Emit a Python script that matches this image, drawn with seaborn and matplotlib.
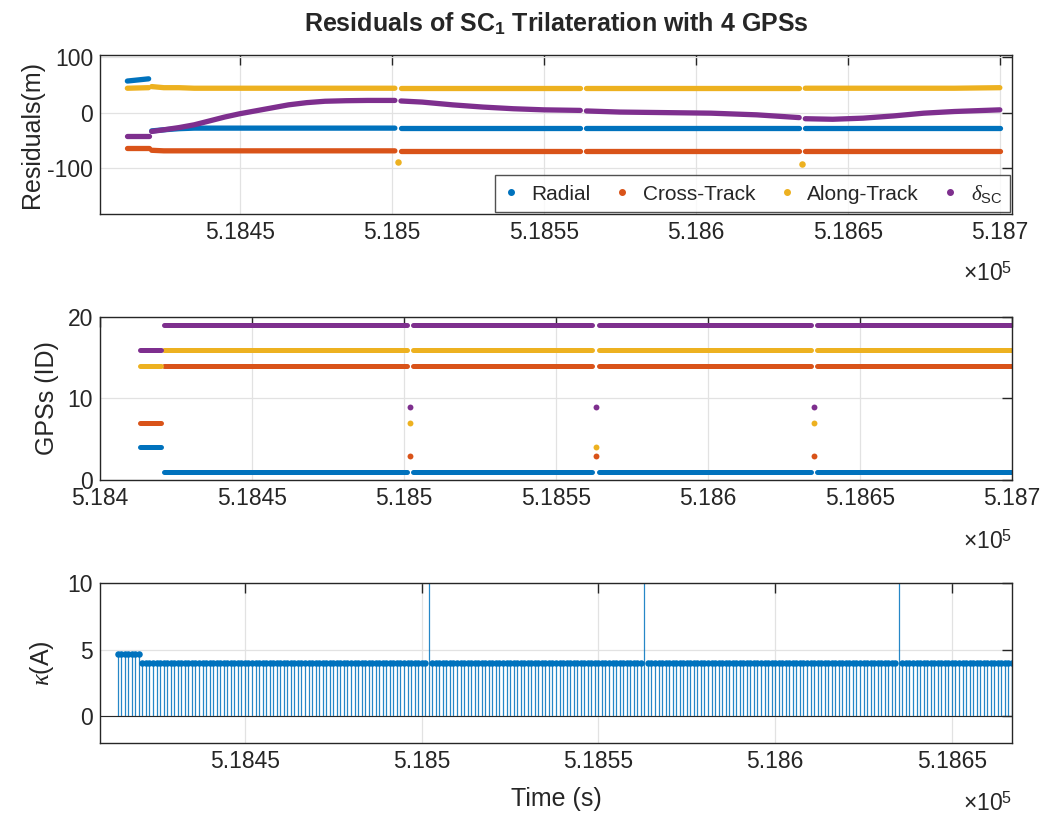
import numpy as np
import pandas as pd
import matplotlib
matplotlib.use("Agg")
import matplotlib.pyplot as plt
from matplotlib.lines import Line2D
from matplotlib.ticker import FuncFormatter
import seaborn as sns

# ---------------- data ----------------
series_names = ["Radial", "Cross-Track", "Along-Track", r"$\delta_{\rm SC}$"]
colors = ["#0072BD", "#D95319", "#EDB120", "#7E2F8E"]

# anchor times of the residual curves and the segment each belongs to
res_t = [518413, 518420,
         518421, 518425, 518430, 518435, 518440, 518445, 518450, 518455, 518460,
         518466, 518472, 518478, 518485, 518492, 518501,
         518503, 518510, 518520, 518530, 518540, 518550, 518562,
         518564, 518575, 518590, 518605, 518620, 518634,
         518636, 518645, 518655, 518665, 518675, 518685, 518700]
res_seg = [1, 1,
           2, 2, 2, 2, 2, 2, 2, 2, 2, 2, 2, 2, 2, 2, 2,
           3, 3, 3, 3, 3, 3, 3,
           4, 4, 4, 4, 4, 4,
           5, 5, 5, 5, 5, 5, 5]
radial = [57, 61,
          -33, -31, -29, -28, -28, -28, -28, -28, -28, -28, -28, -28, -28, -28, -28,
          -28, -28, -28, -28, -28, -28, -28,
          -28, -28, -28, -28, -28, -28,
          -27, -27, -27, -27, -27, -27, -27]
cross_track = [-63, -63,
               -68, -69, -69, -69, -69, -69, -69, -69, -69, -69, -69, -69, -69, -69, -69,
               -69, -69, -69, -69, -69, -69, -69,
               -69, -69, -69, -69, -69, -69,
               -69, -69, -69, -69, -69, -69, -69]
along_track = [44, 45,
               47, 45, 45, 44, 44, 44, 44, 44, 44, 44, 44, 44, 44, 44, 44,
               44, 44, 44, 44, 44, 44, 44,
               44, 44, 44, 44, 44, 44,
               44, 44, 44, 44, 44, 44, 45]
delta_sc = [-42, -42,
            -34, -31, -27, -22, -15, -8, -2, 3, 8, 14, 18, 20.5, 21.5, 22, 22,
            21, 19, 14, 10, 7, 5, 4,
            3, 1, 0, -1, -4, -9,
            -11, -12, -10, -6, -1, 2, 5]
along_outlier_t = [518502, 518635]
along_outlier_v = [-90, -93]

# GPS IDs used: segment start / end times and IDs per series
seg_start = [518413, 518421, 518503, 518564, 518636]
seg_end = [518420, 518501, 518562, 518634, 518700]
gps_radial = [4, 1, 1, 1, 1]
gps_cross = [7, 14, 14, 14, 14]
gps_along = [14, 16, 16, 16, 16]
gps_delta = [16, 19, 19, 19, 19]
event_t = [518502, 518563, 518635]
ev_cross = [3, 3, 3]
ev_along = [7, 4, 7]
ev_delta = [9, 9, 9]

# condition number per segment and at the events
kappa_start = [518414, 518421, 518503, 518564, 518636]
kappa_end = [518420, 518501, 518562, 518634, 518700]
kappa_seg = [4.7, 4.0, 4.0, 4.0, 4.0]
kappa_event = [30, 30, 30]

# ---------------- style ----------------
sns.set_style("white")
plt.rcParams["font.family"] = ["Liberation Sans", "DejaVu Sans"]
plt.rcParams["mathtext.fontset"] = "custom"
plt.rcParams["mathtext.rm"] = "Liberation Sans"
plt.rcParams["mathtext.it"] = "Liberation Serif:italic"
plt.rcParams["mathtext.bf"] = "Liberation Sans:bold"
plt.rcParams["axes.unicode_minus"] = False

fig = plt.figure(figsize=(10.55, 8.16), dpi=100)
L, W = 100 / 1055, (1012 - 100) / 1055
ax1 = fig.add_axes([L, 1 - 214 / 816, W, (214 - 55) / 816])
ax2 = fig.add_axes([L, 1 - 480 / 816, W, (480 - 317) / 816])
ax3 = fig.add_axes([L, 1 - 743 / 816, W, (743 - 583) / 816])

axcol = "#262626"
TFS = 16.5
LFS = 18

def style(ax):
    ax.grid(True, color="#e2e2e2", lw=0.9)
    ax.set_axisbelow(True)
    for s in ax.spines.values():
        s.set_color(axcol)
        s.set_linewidth(1.0)
    ax.tick_params(direction="in", top=True, right=True, length=7, width=1,
                   colors=axcol, labelsize=TFS, pad=5)
    ax.xaxis.set_major_formatter(FuncFormatter(lambda v, p: f"{v/1e5:g}"))
    ax.text(1.0, -0.38, r"$\times$10$^{5}$", transform=ax.transAxes,
            ha="right", va="center", fontsize=TFS, color=axcol)

# ---- top: residuals ----
rows = []
for name, vals in zip(series_names, [radial, cross_track, along_track, delta_sc]):
    for t, s, v in zip(res_t, res_seg, vals):
        rows.append((t, v, name, s))
df_res = pd.DataFrame(rows, columns=["t", "v", "series", "seg"])
pal = dict(zip(series_names, colors))
sns.lineplot(data=df_res, x="t", y="v", hue="series", units="seg", estimator=None,
             palette=pal, lw=3.8, legend=False, ax=ax1, solid_capstyle="round")
sns.scatterplot(x=along_outlier_t, y=along_outlier_v, color=colors[2], s=22,
                linewidth=0, ax=ax1)
ax1.set_xlim(518404, 518704)
ax1.set_ylim(-183, 104)
ax1.set_xticks([518450, 518500, 518550, 518600, 518650, 518700])
ax1.set_yticks([-100, 0, 100])
ax1.set_xlabel("")
ax1.set_ylabel("Residuals(m)", fontsize=LFS, color=axcol, labelpad=2)
style(ax1)
handles = [Line2D([], [], ls="none", marker="o", ms=4, color=c) for c in colors]
leg = ax1.legend(handles, series_names, loc="lower right", ncol=4, fontsize=15,
                 frameon=True, fancybox=False, edgecolor=axcol, handlelength=0.8,
                 handletextpad=0.6, columnspacing=1.1, borderaxespad=0.1,
                 borderpad=0.35)
leg.get_frame().set_linewidth(1.0)
ax1.set_title(r"Residuals of SC$_\mathbf{1}$ Trilateration with 4 GPSs",
              fontsize=18, fontweight="bold", pad=17)

# ---- middle: GPS IDs ----
rows = []
for name, ids in zip(series_names, [gps_radial, gps_cross, gps_along, gps_delta]):
    for k, (a, b, g) in enumerate(zip(seg_start, seg_end, ids)):
        rows.append((a, g, name, k))
        rows.append((b, g, name, k))
df_gps = pd.DataFrame(rows, columns=["t", "v", "series", "seg"])
sns.lineplot(data=df_gps, x="t", y="v", hue="series", units="seg", estimator=None,
             palette=pal, lw=3.6, legend=False, ax=ax2, solid_capstyle="round")
for vals, c in zip([ev_cross, ev_along, ev_delta], colors[1:]):
    sns.scatterplot(x=event_t, y=vals, color=c, s=18, linewidth=0, ax=ax2)
ax2.set_xlim(518400, 518700)
ax2.set_ylim(0, 20)
ax2.set_xticks(np.arange(518400, 518701, 50))
ax2.set_yticks([0, 10, 20])
ax2.set_xlabel("")
ax2.set_ylabel("GPSs (ID)", fontsize=LFS, color=axcol, labelpad=6)
style(ax2)

# ---- bottom: kappa stems ----
kt, kv = [], []
for a, b, k in zip(kappa_start, kappa_end, kappa_seg):
    for t in range(a, b + 1):
        kt.append(t)
        kv.append(k)
for t, k in zip(event_t, kappa_event):
    kt.append(t)
    kv.append(k)
ax3.vlines(kt, 0, kv, color="#0072BD", lw=0.9, alpha=0.85)
ax3.axhline(0, color=axcol, lw=0.8)
sns.scatterplot(x=kt, y=kv, color="#0072BD", s=22, linewidth=0, ax=ax3)
ax3.set_xlim(518409, 518667)
ax3.set_ylim(-2, 10)
ax3.set_xticks([518450, 518500, 518550, 518600, 518650])
ax3.set_yticks([0, 5, 10])
ax3.set_xlabel("Time (s)", fontsize=LFS, color=axcol, labelpad=10)
ax3.set_ylabel(r"$\kappa$(A)", fontsize=LFS, color=axcol, labelpad=8)
style(ax3)

fig.savefig("out.png", dpi=100)
